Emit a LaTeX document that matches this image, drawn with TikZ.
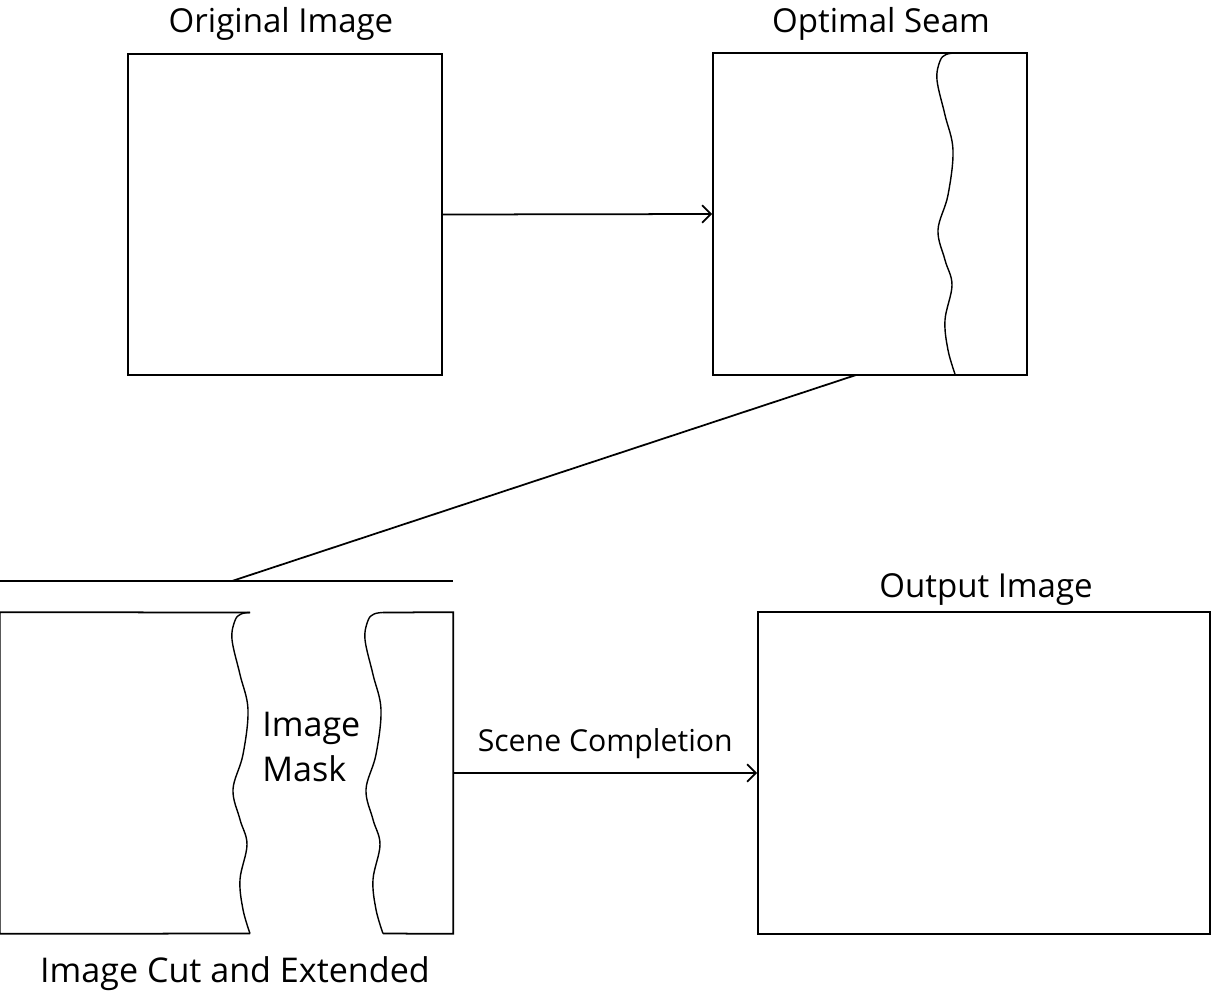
\documentclass[tikz,border=0pt]{standalone}
\usepackage{fontspec}
\setmainfont{Open Sans}
\usetikzlibrary{arrows.meta}

\begin{document}
\begin{tikzpicture}[x=0.02cm,y=-0.02cm,%
      box/.style={draw,line width=1pt,minimum width=6.28cm,minimum height=6.43cm},%
      title/.style={anchor=base,font=\fontsize{18.8}{22}\selectfont},%
      pointers/.style={-{Straight Barb[length=5pt,width=10pt]},line width=1pt},%
      seamline/.style={line width=0.8pt},%
      seam/.pic={\draw[seamline] plot[smooth,tension=0.6] coordinates
        {(0,0) (-9,1.5) (-15,8) (-18,27) (-10,62) (-2,97) (-7,142)
         (-17,177) (-10,207) (-3,232) (-10,267) (-7,297) (0,321)};}%
      ]
      \useasboundingbox (0,0) rectangle (1211,992);%
      %% create nodes
      \node[box] (orig) at (285,214.5) {};%
      \node[box] (optimal) at (870,214) {};%
      \node[box,minimum width=9.04cm,minimum height=6.44cm] (output) at (984,773) {};%
      \node[minimum width=9.06cm,minimum height=6.42cm,inner sep=0pt] (cut) at (226.5,773) {};%
      %% titles
      \node[title] (torig) at (281,32) {Original Image};%
      \node[title] (toptimal) at (881,32) {Optimal Seam};%
      \node[title] (toutput) at (986,597) {Output Image};%
      \node[title,font=\fontsize{19.4}{22}\selectfont] (tcut) at (235,982) {Image Cut and Extended};%
      \node[anchor=north west,align=left,inner sep=0pt,
        font=\fontsize{19.4}{25.6}\selectfont] (mask) at (262,712) {Image\\Mask};%
      %% seams
      \pic at (955,53) {seam};%
      \pic at (250,612.5) {seam};%
      \pic at (383,612.5) {seam};%
      %% the cut pieces
      \coordinate (s1) at (250,612.5);%
      \coordinate (s1e) at (250,933.5);%
      \coordinate (s2) at (383,612.5);%
      \coordinate (s2e) at (383,933.5);%
      \draw[line width=1pt] (s1) -- (cut.north west) -- (cut.south west) -- (s1e);%
      \draw[line width=1pt] (s2) -- (cut.north east) -- (cut.south east) -- (s2e);%
      %% split line
      \coordinate (rulel) at (0,581);%
      \coordinate (ruler) at (453,581);%
      \coordinate (join) at (232,581);%
      \coordinate (drop) at (856,375);%
      \draw[line width=1pt] (rulel) -- (ruler);%
      \draw[line width=1pt] (drop) -- (join);%
      %% arrows
      \draw[pointers] (orig.east) to (optimal.west);%
      \draw[pointers] (cut.east) to node[above=4pt,font=\fontsize{17.2}{19}\selectfont] {Scene Completion} (output.west);%
    \end{tikzpicture}
\end{document}
